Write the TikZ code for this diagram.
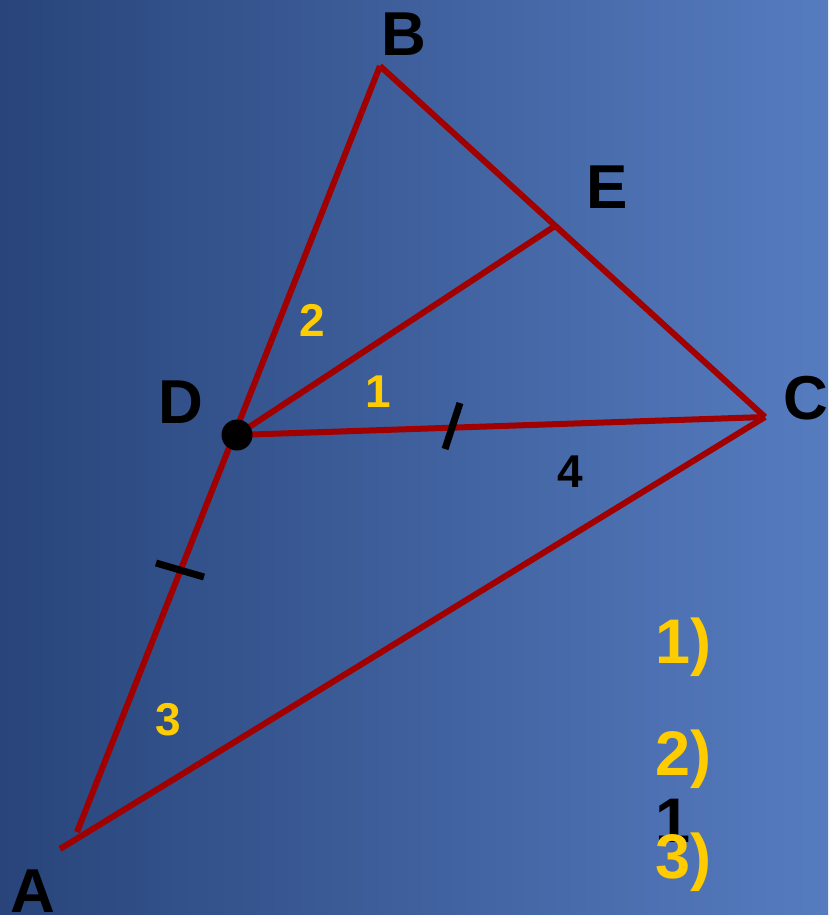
\documentclass[tikz,border=0pt]{standalone}
\usepackage{fontspec}
\setmainfont{Liberation Sans}
\definecolor{bgdark}{RGB}{40,68,122}
\definecolor{bglight}{RGB}{86,124,192}
\definecolor{seg}{RGB}{160,0,0}
\definecolor{ylw}{RGB}{255,204,0}
\tikzset{
  side/.style={draw=seg, line width=6pt},
  tick/.style={draw=black, line width=7pt},
  ptlabel/.style={anchor=base west, inner sep=0pt, font=\fontsize{62}{62}\selectfont\bfseries, text=black},
  anglab/.style={anchor=center, inner sep=0pt, font=\fontsize{46}{46}\selectfont\bfseries, text=ylw},
  itemlab/.style={anchor=base west, inner sep=0pt, font=\fontsize{63}{63}\selectfont\bfseries, text=ylw},
}
\begin{document}
\begin{tikzpicture}[x=1pt,y=-1pt]
\useasboundingbox (0,0) rectangle (828,915);
\shade[left color=bgdark, right color=bglight] (0,0) rectangle (828,915);
% points
\coordinate (A1) at (77,832);
\coordinate (A2) at (60,849);
\coordinate (B) at (380,66);
\coordinate (C) at (765,417);
\coordinate (D) at (237,435);
\coordinate (E) at (555,226);
\coordinate (t1a) at (445,449);
\coordinate (t1b) at (460,403);
\coordinate (t2a) at (156,563);
\coordinate (t2b) at (204,577);
% sides
\draw[side] (A1) -- (B);
\draw[side] (B) -- (C);
\draw[side] (A2) -- (C);
\draw[side] (D) -- (C);
\draw[side] (D) -- (E);
% ticks
\draw[tick] (t1a) -- (t1b);
\draw[tick] (t2a) -- (t2b);
\fill[black] (D) circle (15.5);
% labels
\node[ptlabel] (lA) at (10,912) {A};
\node[ptlabel] (lB) at (381,56) {B};
\node[ptlabel] (lC) at (783,419) {C};
\node[ptlabel] (lD) at (158,423) {D};
\node[ptlabel] (lE) at (586,208) {E};
\node[anglab] (a2) at (312,320) {2};
\node[anglab] (a1) at (378,392) {1};
\node[anglab] (a3) at (168,720) {3};
\node[anglab, text=black] (a4) at (570,472) {4};
\node[itemlab] (i1) at (655,663) {1)};
\node[itemlab] (i2) at (655,775) {2)};
\node[itemlab, text=black] (i4) at (655,842) {1};
\node[itemlab] (i3) at (655,878) {3)};
\end{tikzpicture}
\end{document}
